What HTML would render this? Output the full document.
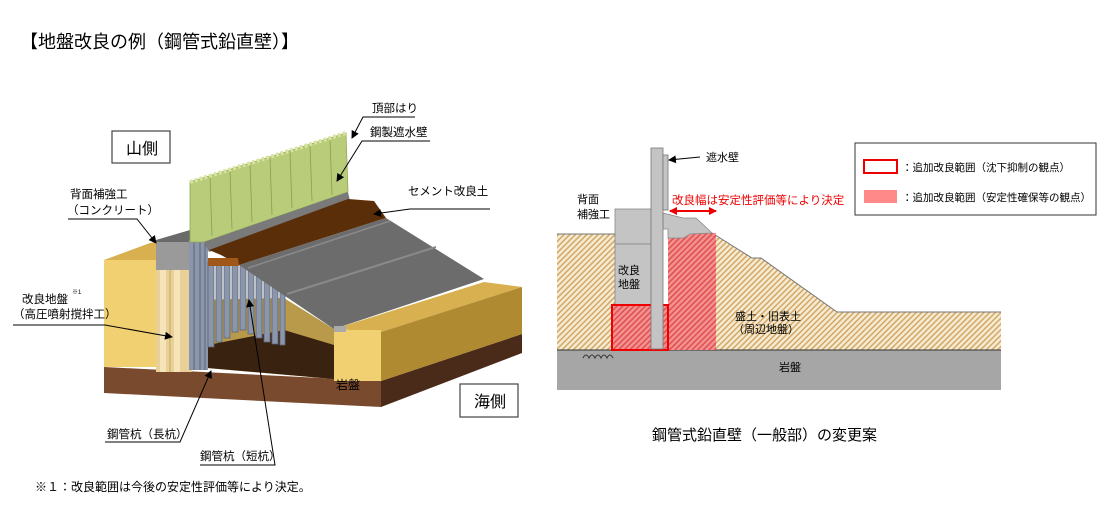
<!DOCTYPE html>
<html><head><meta charset="utf-8"><style>
html,body{margin:0;padding:0;background:#fff;}
body{width:1110px;height:530px;position:relative;overflow:hidden;font-family:"Liberation Sans","Noto Sans CJK JP",sans-serif;color:#000;}
svg{position:absolute;left:0;top:0;}
svg text{font-family:"Liberation Sans","Noto Sans CJK JP",sans-serif;}
</style></head><body>
<svg width="1110" height="530" viewBox="0 0 1110 530">
<defs>
<pattern id="soil" width="4" height="4" patternUnits="userSpaceOnUse" patternTransform="rotate(45)">
<rect width="4" height="4" fill="#f6ead0"/><rect width="1.5" height="4" fill="#d2a868"/></pattern>
<pattern id="redh" width="4" height="4" patternUnits="userSpaceOnUse" patternTransform="rotate(45)">
<rect width="4" height="4" fill="#f39090"/><rect width="1.5" height="4" fill="#e05050"/></pattern>
<marker id="ar" markerWidth="8" markerHeight="8" refX="7" refY="4" orient="auto" markerUnits="userSpaceOnUse"><path d="M0,0 L8,4 L0,8 z" fill="#000"/></marker>
<marker id="rr" markerWidth="8" markerHeight="8" refX="7" refY="4" orient="auto-start-reverse" markerUnits="userSpaceOnUse"><path d="M0,0 L8,4 L0,8 z" fill="#e00"/></marker>
</defs>
<text x="20" y="48" font-size="18">【地盤改良の例（鋼管式鉛直壁）】</text>

<!-- LEFT DIAGRAM -->
<rect x="112" y="131" width="58" height="32" fill="#fff" stroke="#444" stroke-width="1.2"/>
<text x="126" y="154" font-size="16">山側</text>
<polygon points="104,367 381,381 381,407 104,393" fill="#7a4a2e"/>
<polygon points="381,381 522,334 522,353 381,407" fill="#4a2a18"/>
<polygon points="192,300 284,298 334,329 334,379 194,367" fill="#b89a4a"/>
<polygon points="208,345 284,330 334,345 334,379 208,368" fill="#3a2210"/>
<polygon points="334,329 484,282 522,287 381,332" fill="#d8b050"/>
<rect x="334" y="330" width="47" height="51" fill="#f0d070"/>
<polygon points="381,332 522,287 522,334 381,381" fill="#b08a30"/>
<polygon points="104,260 150,243 190,235 190,250 156,262" fill="#d8b050"/>
<rect x="104" y="260" width="52" height="107" fill="#f0d070"/>
<rect x="156" y="268" width="36" height="104" fill="#e8d098"/>
<rect x="160" y="268" width="6" height="104" fill="#f4e4b8"/>
<rect x="174" y="268" width="6" height="104" fill="#f4e4b8"/>
<line x1="170" y1="268" x2="170" y2="372" stroke="#c8a860"/>
<polygon points="156,240 190,230 205,242 190,250 156,250" fill="#6a6a6a"/>
<rect x="156" y="242" width="36" height="28" fill="#9a9a9a"/>
<rect x="189" y="240" width="19" height="130" fill="#8c96aa"/>
<g stroke="#5c667a" stroke-width="1"><line x1="194" y1="240" x2="194" y2="370"/><line x1="200" y1="240" x2="200" y2="370"/><line x1="205" y1="240" x2="205" y2="370"/></g>
<g fill="#8c96aa" stroke="#5c667a" stroke-width="0.8">
<rect x="208" y="262" width="6" height="85"/><rect x="216" y="262" width="6" height="80"/><rect x="224" y="260" width="6" height="78"/><rect x="232" y="260" width="6" height="72"/><rect x="240" y="262" width="6" height="68"/><rect x="248" y="264" width="6" height="70"/><rect x="256" y="268" width="6" height="70"/><rect x="264" y="272" width="6" height="70"/><rect x="272" y="278" width="6" height="66"/><rect x="280" y="285" width="5" height="60"/></g>
<polygon points="190,182 346,133 348,192 204,242 190,242" fill="#b8cc7a" stroke="#90a858" stroke-width="0.8"/>
<g stroke="#8aa050" stroke-width="0.8">
<line x1="210" y1="176" x2="212" y2="236"/><line x1="230" y1="170" x2="232" y2="229"/><line x1="250" y1="164" x2="252" y2="222"/><line x1="270" y1="158" x2="272" y2="215"/><line x1="290" y1="151" x2="292" y2="208"/><line x1="310" y1="145" x2="312" y2="201"/><line x1="330" y1="139" x2="332" y2="195"/></g>
<polyline points="190,182 346,133" stroke="#d8e4a0" stroke-width="4" fill="none" stroke-dasharray="3,2"/>
<polygon points="204,242 348,192 350,201 209,252" fill="#7a7a7a"/>
<polygon points="209,250 348,199 374,201 386,218 239,265 221,255" fill="#5a2e08"/>
<polygon points="208,258 238,258 239,266 208,266" fill="#a05818"/>
<polygon points="239,265 386,218 484,279 334,329" fill="#6c6c6c"/>
<line x1="287" y1="294" x2="436" y2="247" stroke="#8a8a8a" stroke-width="2"/>
<line x1="248" y1="268" x2="390" y2="221" stroke="#8a8a8a" stroke-width="1.5"/>
<rect x="334" y="326" width="12" height="6" fill="#aaa"/>
<text x="336" y="389" font-size="12">岩盤</text>
<rect x="460" y="384" width="58" height="33" fill="#fff" stroke="#444" stroke-width="1.2"/>
<text x="474" y="407" font-size="16">海側</text>
<g font-size="11.5">
<text x="372" y="112">頂部はり</text>
<text x="370" y="136">鋼製遮水壁</text>
<text x="408" y="195">セメント改良土</text>
<text x="70" y="198">背面補強工</text>
<text x="67" y="214">（コンクリート）</text>
<text x="22" y="303">改良地盤</text><text x="72" y="294" font-size="6">※1</text>
<text x="13" y="318">（高圧噴射撹拌工）</text>
<text x="107" y="438">鋼管杭（長杭）</text>
<text x="200" y="460">鋼管杭（短杭）</text>
</g>
<g stroke="#000" stroke-width="1" fill="none">
<polyline points="415,117 363,117 352,138" marker-end="url(#ar)"/>
<polyline points="430,141 362,141 337,181" marker-end="url(#ar)"/>
<polyline points="490,209 410,209 374,214" marker-end="url(#ar)"/>
<polyline points="68,219 137,219 156,243" marker-end="url(#ar)"/>
<polyline points="13,325 105,325 172,337" marker-end="url(#ar)"/>
<polyline points="105,442 180,442 211,371" marker-end="url(#ar)"/>
<polyline points="200,465 275,465 249,300" marker-end="url(#ar)"/>
</g>
<text x="35" y="491" font-size="12">※１：改良範囲は今後の安定性評価等により決定。</text>

<!-- RIGHT DIAGRAM -->
<polygon points="557,234 615,234 615,350 557,350" fill="url(#soil)"/>
<polygon points="712,233 752,258 761,258 837,312 1001,312 1001,350 716,350 716,233" fill="url(#soil)"/>
<line x1="557" y1="234" x2="615" y2="234" stroke="#777"/>
<polyline points="712,233 752,258 761,258 837,312 1001,312" fill="none" stroke="#777"/>
<rect x="557" y="350" width="444" height="40" fill="#a6a6a6"/>
<line x1="557" y1="350" x2="1001" y2="350" stroke="#333"/>
<rect x="668" y="233" width="48" height="117" fill="url(#redh)"/>
<rect x="615" y="209" width="36" height="35" fill="#c4c4c4" stroke="#888" stroke-width="0.8"/>
<rect x="615" y="244" width="36" height="61" fill="#c4c4c4" stroke="#888" stroke-width="0.8"/>
<polygon points="663,213 683,218 696,218 712,233 690,234 684,238 668,238 668,229 663,229" fill="#c4c4c4" stroke="#888" stroke-width="0.8"/>
<rect x="612" y="305" width="56" height="45" fill="url(#redh)" stroke="#e00" stroke-width="2"/>
<rect x="651" y="148" width="12" height="201" fill="#c4c4c4" stroke="#777" stroke-width="0.8"/>
<rect x="663" y="155" width="5" height="55" fill="#c4c4c4" stroke="#777" stroke-width="0.8"/>
<g font-size="11"><text x="577" y="203">背面</text><text x="577" y="218">補強工</text>
<text x="618" y="274">改良</text><text x="618" y="288">地盤</text>
<text x="735" y="320">盛土・旧表土</text><text x="733" y="333">（周辺地盤）</text>
<text x="706" y="161">遮水壁</text>
<text x="779" y="371">岩盤</text></g>
<line x1="700" y1="157" x2="669" y2="160" stroke="#000" marker-end="url(#ar)"/>
<text x="672" y="204" font-size="11.5" fill="#e00">改良幅は安定性評価等により決定</text>
<line x1="670" y1="211" x2="716" y2="211" stroke="#e00" stroke-width="2" marker-start="url(#rr)" marker-end="url(#rr)"/>
<path d="M583,358 q3,-6 6,0 q3,-6 6,0 q3,-6 6,0 q3,-6 6,0 q3,-6 6,0" fill="none" stroke="#333"/>
<rect x="855" y="143" width="241" height="72" fill="#fff" stroke="#333"/>
<rect x="864" y="160" width="33" height="13" fill="#fff" stroke="#e00" stroke-width="2"/>
<rect x="864" y="190" width="33" height="13" fill="#f88"/>
<g font-size="10.5"><text x="902" y="171">：追加改良範囲（沈下抑制の観点）</text>
<text x="902" y="201">：追加改良範囲（安定性確保等の観点）</text></g>
<text x="652" y="440" font-size="15">鋼管式鉛直壁（一般部）の変更案</text>
</svg>
</body></html>
